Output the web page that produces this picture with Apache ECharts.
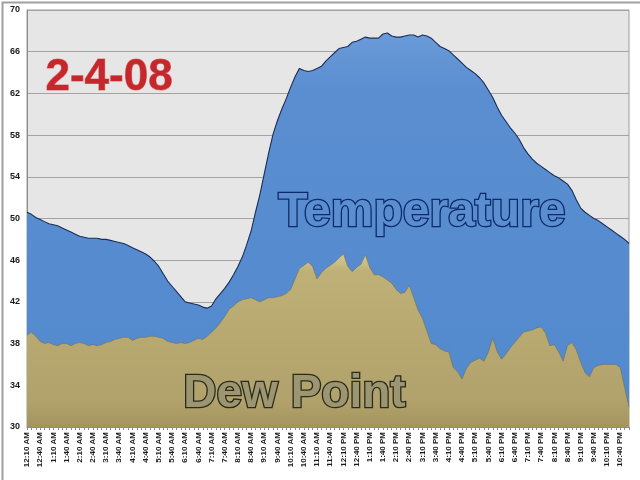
<!DOCTYPE html>
<html>
<head>
<meta charset="utf-8">
<script src="https://cdn.jsdelivr.net/npm/echarts@6/dist/echarts.min.js"></script>
<style>html,body{margin:0;padding:0;background:#fff;}#c{width:640px;height:480px;}</style>
</head>
<body>
<div id="c"></div>
<script>
var times = [
"12:10 AM","12:20 AM","12:30 AM","12:40 AM","12:50 AM",
"1:00 AM","1:10 AM","1:20 AM","1:30 AM","1:40 AM","1:50 AM",
"2:00 AM","2:10 AM","2:20 AM","2:30 AM","2:40 AM","2:50 AM",
"3:00 AM","3:10 AM","3:20 AM","3:30 AM","3:40 AM","3:50 AM",
"4:00 AM","4:10 AM","4:20 AM","4:30 AM","4:40 AM","4:50 AM",
"5:00 AM","5:10 AM","5:20 AM","5:30 AM","5:40 AM","5:50 AM",
"6:00 AM","6:10 AM","6:20 AM","6:30 AM","6:40 AM","6:50 AM",
"7:00 AM","7:10 AM","7:20 AM","7:30 AM","7:40 AM","7:50 AM",
"8:00 AM","8:10 AM","8:20 AM","8:30 AM","8:40 AM","8:50 AM",
"9:00 AM","9:10 AM","9:20 AM","9:30 AM","9:40 AM","9:50 AM",
"10:00 AM","10:10 AM","10:20 AM","10:30 AM","10:40 AM","10:50 AM",
"11:00 AM","11:10 AM","11:20 AM","11:30 AM","11:40 AM","11:50 AM",
"12:00 PM","12:10 PM","12:20 PM","12:30 PM","12:40 PM","12:50 PM",
"1:00 PM","1:10 PM","1:20 PM","1:30 PM","1:40 PM","1:50 PM",
"2:00 PM","2:10 PM","2:20 PM","2:30 PM","2:40 PM","2:50 PM",
"3:00 PM","3:10 PM","3:20 PM","3:30 PM","3:40 PM","3:50 PM",
"4:00 PM","4:10 PM","4:20 PM","4:30 PM","4:40 PM","4:50 PM",
"5:00 PM","5:10 PM","5:20 PM","5:30 PM","5:40 PM","5:50 PM",
"6:00 PM","6:10 PM","6:20 PM","6:30 PM","6:40 PM","6:50 PM",
"7:00 PM","7:10 PM","7:20 PM","7:30 PM","7:40 PM","7:50 PM",
"8:00 PM","8:10 PM","8:20 PM","8:30 PM","8:40 PM","8:50 PM",
"9:00 PM","9:10 PM","9:20 PM","9:30 PM","9:40 PM","9:50 PM",
"10:00 PM","10:10 PM","10:20 PM","10:30 PM","10:40 PM","10:50 PM",
"11:00 PM"
];

var temperature = [
50.6,50.4,50.1,49.9,49.7,49.5,49.4,49.3,49.1,48.9,
48.7,48.5,48.3,48.2,48.1,48.1,48.1,48.0,48.0,47.9,
47.8,47.7,47.6,47.4,47.2,47.0,46.8,46.6,46.3,45.9,
45.4,44.7,44.0,43.5,43.0,42.5,42.0,41.9,41.8,41.7,
41.5,41.4,41.6,42.3,42.8,43.3,43.9,44.6,45.4,46.3,
47.5,48.8,50.6,52.3,54.3,56.3,58.1,59.4,60.5,61.5,
62.6,63.6,64.4,64.2,64.1,64.2,64.4,64.6,65.1,65.5,
65.9,66.3,66.4,66.5,66.9,67.0,67.2,67.4,67.3,67.3,
67.3,67.7,67.8,67.5,67.4,67.4,67.5,67.6,67.6,67.4,
67.6,67.5,67.3,66.9,66.5,66.3,66.1,65.7,65.3,64.9,
64.5,64.2,63.9,63.5,63.0,62.3,61.6,60.7,59.9,59.3,
58.7,58.2,57.6,56.8,56.2,55.7,55.3,55.0,54.7,54.4,
54.1,53.9,53.6,53.3,52.7,51.8,51.0,50.6,50.3,50.0,
49.8,49.5,49.2,48.9,48.6,48.3,48.0,47.6
];

var dewPoint = [
38.8,39.1,38.7,38.2,38.0,38.1,37.9,37.8,38.0,38.0,
37.8,38.0,38.1,38.0,37.8,37.9,37.8,37.9,38.1,38.2,
38.4,38.5,38.6,38.6,38.3,38.5,38.6,38.6,38.7,38.7,
38.6,38.5,38.2,38.1,38.0,38.1,38.0,38.1,38.3,38.5,
38.4,38.7,39.1,39.5,40.0,40.6,41.3,41.6,42.0,42.2,
42.3,42.4,42.2,42.0,42.2,42.4,42.4,42.5,42.6,42.8,
43.2,44.2,45.2,45.5,45.8,45.4,44.2,44.8,45.2,45.5,
45.8,46.2,46.6,45.4,44.9,45.3,45.6,46.5,45.3,44.6,
44.6,44.4,44.1,43.8,43.2,42.8,42.9,43.6,42.4,41.2,
40.4,39.2,38.0,37.9,37.5,37.3,37.2,35.7,35.3,34.6,
35.6,36.2,36.4,36.6,36.3,37.2,38.5,37.2,36.5,37.0,
37.6,38.1,38.6,39.1,39.2,39.3,39.5,39.6,39.0,37.8,
37.9,37.2,36.3,37.8,38.1,37.4,36.2,35.2,34.8,35.7,
35.9,36.0,36.0,36.0,36.0,35.7,33.8,31.9
];

var yMin = 30, yMax = 70, yStep = 4;

var chart = echarts.init(document.getElementById('c'), null, {renderer: 'canvas'});
var option = {
  animation: false,
  backgroundColor: '#ffffff',
  grid: {left: 27, right: 11, top: 10, bottom: 53, show: true, backgroundColor: '#e6e6e6', borderColor: '#9c9c9c', borderWidth: 1},
  xAxis: {
    type: 'category',
    data: times,
    boundaryGap: false,
    axisLine: {show: true, lineStyle: {color: '#8c8c8c', width: 1}},
    axisTick: {show: true, interval: 0, length: 3, lineStyle: {color: '#8c8c8c'}},
    axisLabel: {interval: 2, rotate: 90, fontSize: 8, fontWeight: 'bold', color: '#1a1a1a', fontFamily: 'Liberation Sans', margin: 5},
    splitLine: {show: false}
  },
  yAxis: {
    type: 'value',
    min: yMin, max: yMax, interval: yStep,
    axisLine: {show: true, lineStyle: {color: '#8c8c8c', width: 1}},
    axisTick: {show: false},
    axisLabel: {fontSize: 9, fontWeight: 'bold', color: '#1a1a1a', fontFamily: 'Liberation Sans', margin: 7},
    splitLine: {show: true, lineStyle: {color: '#a3a3a3', width: 1}}
  },
  series: [
    {
      name: 'Temperature', type: 'line', data: temperature, showSymbol: false, symbol: 'none',
      lineStyle: {color: '#1b2d57', width: 1.1},
      areaStyle: {origin: 'start', opacity: 1, color: new echarts.graphic.LinearGradient(0, 0, 0, 1, [
        {offset: 0, color: '#6a9ad8'}, {offset: 0.15, color: '#5a8ed1'}, {offset: 1, color: '#5289cd'}])},
      z: 2
    },
    {
      name: 'Dew Point', type: 'line', data: dewPoint, showSymbol: false, symbol: 'none',
      lineStyle: {color: 'rgba(110,98,55,0.55)', width: 0.8},
      areaStyle: {origin: 'start', opacity: 1, color: new echarts.graphic.LinearGradient(0, 0, 0, 1, [
        {offset: 0, color: '#d6cb94'}, {offset: 0.1, color: '#beb077'}, {offset: 0.85, color: '#b0a26a'}, {offset: 1, color: '#a3955d'}])},
      z: 3
    }
  ],
  graphic: [
    {type: 'rect', left: 0, top: 0, z: 0, silent: true, shape: {width: 640, height: 480},
     style: {fill: 'none', stroke: '#a0a0a0', lineWidth: 2}},
    {type: 'text', left: 45, top: 55, z: 10, silent: true,
     style: {text: '2-4-08', font: 'bold 44px "Liberation Sans"', fill: '#c4282c', stroke: '#e07a7a', lineWidth: 1,
             shadowColor: 'rgba(0,0,0,0.35)', shadowBlur: 3, shadowOffsetX: 2, shadowOffsetY: 2}},
    {type: 'text', left: 277, top: 187, z: 10, silent: true,
     style: {text: 'Temperature', font: 'bold 48px "Liberation Sans"', fill: '#5a8ed1', stroke: '#0e2a68', lineWidth: 2.6}},
    {type: 'text', left: 182, top: 370, z: 10, silent: true,
     style: {text: 'Dew Point', font: 'bold 46px "Liberation Sans"', fill: '#9b9571', stroke: '#2c2a1a', lineWidth: 2.6}}
  ]
};
chart.setOption(option);
</script>
</body>
</html>
